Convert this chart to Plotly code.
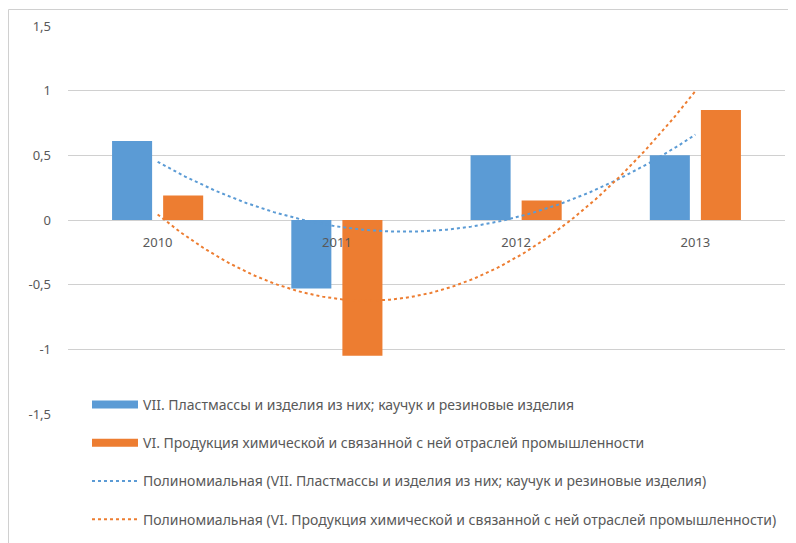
import numpy as np
import plotly.graph_objects as go

# values
years = ['2010', '2011', '2012', '2013']
plastics = [0.61, -0.53, 0.50, 0.50]
chemicals = [0.19, -1.05, 0.15, 0.85]

plastics_name = 'VII. Пластмассы и изделия из них; каучук и резиновые изделия'
chemicals_name = 'VI. Продукция химической и связанной с ней отраслей промышленности'

ytick_vals = [-1.5, -1, -0.5, 0, 0.5, 1, 1.5]
ytick_text = ['-1,5', '-1', '-0,5', '0', '0,5', '1', '1,5']

blue = '#5B9BD5'
orange = '#ED7D31'
grey_text = '#595959'
grid = '#D0D0D0'

x = np.arange(len(years))

# Excel-style 2nd order polynomial trendlines fitted to the bar values
x_fine = np.linspace(x[0], x[-1], 200)
trend_plastics = np.polyval(np.polyfit(x, plastics, 2), x_fine)
trend_chemicals = np.polyval(np.polyfit(x, chemicals, 2), x_fine)

fig = go.Figure()

fig.add_trace(go.Bar(x=x, y=plastics, name=plastics_name, marker_color=blue,
                     marker_line_width=0, showlegend=False))
fig.add_trace(go.Bar(x=x, y=chemicals, name=chemicals_name, marker_color=orange,
                     marker_line_width=0, showlegend=False))

# trendlines
fig.add_trace(go.Scatter(x=x_fine, y=trend_plastics, mode='lines', showlegend=False,
                         line=dict(color=blue, width=2, dash='dot'), hoverinfo='skip'))
fig.add_trace(go.Scatter(x=x_fine, y=trend_chemicals, mode='lines', showlegend=False,
                         line=dict(color=orange, width=2, dash='dot'), hoverinfo='skip'))

# legend entries (wide flat swatches like Excel)
legend_items = [
    (plastics_name, blue, 8, 'solid'),
    (chemicals_name, orange, 8, 'solid'),
    ('Полиномиальная (' + plastics_name + ')', blue, 2, 'dot'),
    ('Полиномиальная (' + chemicals_name + ')', orange, 2, 'dot'),
]
for i, (name, color, w, dash) in enumerate(legend_items):
    fig.add_trace(go.Scatter(x=[None], y=[None], mode='lines', name=name,
                             legendgroup='g%d' % i,
                             line=dict(color=color, width=w, dash=dash)))

ymin, ymax = -1.5, 1.5

# plot area is 717 x 388 px; page adds an 8px offset
ml, mt, mb = 60, 18, 137
pw, ph = 717, 388

fig.update_layout(
    width=796, height=543,
    margin=dict(l=ml, r=19, t=mt, b=mb, autoexpand=False),
    paper_bgcolor='white', plot_bgcolor='white',
    font=dict(family='Noto Sans, Open Sans, sans-serif', size=13, color=grey_text),
    barmode='group', bargap=0.43, bargroupgap=0.216,
    showlegend=True,
    legend=dict(x=0.0265, y=0.0644, xanchor='left', yanchor='top',
                bgcolor='rgba(0,0,0,0)', itemwidth=46, tracegroupgap=17,
                font=dict(size=14, color=grey_text), itemclick=False),
    # outer chart frame (left and top edges are what shows)
    shapes=[
        dict(type='line', xref='paper', yref='paper',
             x0=(0.5 - ml) / pw, x1=(0.5 - ml) / pw,
             y0=-mb / ph, y1=(543 - mb - 1.5) / ph,
             line=dict(color=grid, width=1)),
        dict(type='line', xref='paper', yref='paper',
             x0=(0.5 - ml) / pw, x1=(796 - ml) / pw,
             y0=(543 - mb - 1.5) / ph, y1=(543 - mb - 1.5) / ph,
             line=dict(color=grid, width=1)),
    ],
)

fig.update_xaxes(
    range=[-0.5, 3.5], tickvals=list(x), ticktext=years,
    showgrid=False, zeroline=False, showline=False, ticks='',
    anchor='free', position=(0 - ymin) / (ymax - ymin),
    ticklabelstandoff=13, tickfont=dict(size=13, color=grey_text),
)
fig.update_yaxes(
    range=[ymin, ymax], tickvals=ytick_vals, ticktext=ytick_text,
    showgrid=True, gridcolor=grid, gridwidth=1,
    zeroline=True, zerolinecolor=grid, zerolinewidth=1,
    showline=False, ticks='', ticklabelstandoff=16,
    tickfont=dict(size=13, color=grey_text),
)

fig.write_html('out.html')
